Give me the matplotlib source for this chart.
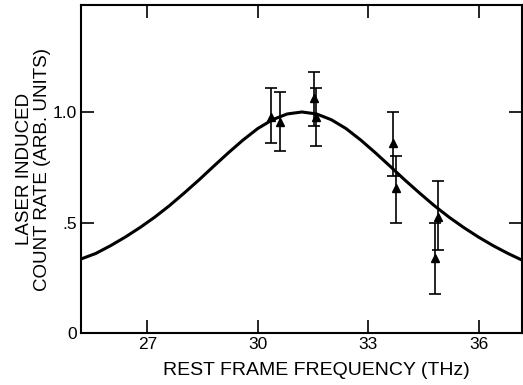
#!/usr/bin/env python3
"""Laser induced count rate vs rest frame frequency."""

import matplotlib
matplotlib.use("Agg")
import matplotlib.pyplot as plt

plt.rcParams["font.family"] = ["Liberation Sans", "DejaVu Sans"]

# measured points (THz, arb. units) with error bar ends
freq = [30.36, 30.60, 31.53, 31.58, 33.67, 33.77, 34.89, 34.83]
rate = [0.977, 0.955, 1.063, 0.977, 0.86, 0.656, 0.525, 0.34]
err_hi = [1.108, 1.09, 1.18, 1.108, 1.0, 0.80, 0.688, 0.50]
err_lo = [0.86, 0.823, 0.937, 0.846, 0.71, 0.50, 0.375, 0.176]

# fitted line
curve_x = [25.2, 25.6, 26.0, 26.4, 26.8, 27.2, 27.6, 28.0, 28.4, 28.8,
           29.2, 29.6, 30.0, 30.4, 30.8, 31.2, 31.6, 32.0, 32.4, 32.8,
           33.2, 33.6, 34.0, 34.4, 34.8, 35.2, 35.6, 36.0, 36.4, 36.8,
           37.18]
curve_y = [0.335, 0.360, 0.395, 0.434, 0.477, 0.524, 0.576, 0.633, 0.692,
           0.754, 0.815, 0.873, 0.925, 0.965, 0.991, 1.0, 0.991, 0.965,
           0.925, 0.873, 0.815, 0.754, 0.692, 0.633, 0.576, 0.524, 0.477,
           0.434, 0.395, 0.360, 0.330]

xticks = [27, 30, 33, 36]
yticks = [0, 0.5, 1.0]
ytick_labels = ["0", ".5", "1.0"]

fig = plt.figure(figsize=(5.23, 3.85), dpi=100)
ax = fig.add_axes([0.155, 0.135, 0.843, 0.852])

ax.plot(curve_x, curve_y, color="black", lw=2.2, solid_capstyle="round",
        solid_joinstyle="round")

yerr = [[r - lo for r, lo in zip(rate, err_lo)],
        [hi - r for r, hi in zip(rate, err_hi)]]
ax.errorbar(freq, rate, yerr=yerr, fmt="^", color="black", ms=6,
            elinewidth=1.2, capsize=4, capthick=1.2)

ax.set_xlim(25.2, 37.18)
ax.set_ylim(0, 1.484)
ax.set_xticks(xticks)
ax.set_yticks(yticks)
ax.set_yticklabels(ytick_labels)
ax.tick_params(direction="in", length=9.5, width=1.2, labelsize=12.5,
               top=True, right=True, pad=3)

for side in ax.spines.values():
    side.set_linewidth(1.5)

ax.set_xlabel("REST FRAME FREQUENCY (THz)", fontsize=14)
ax.set_ylabel("LASER INDUCED\nCOUNT RATE (ARB. UNITS)", fontsize=13.5,
              linespacing=1.1)
ax.xaxis.set_label_coords(0.533, -0.088)
ax.yaxis.set_label_coords(-0.068, 0.5)

fig.savefig("out.png", dpi=100)
